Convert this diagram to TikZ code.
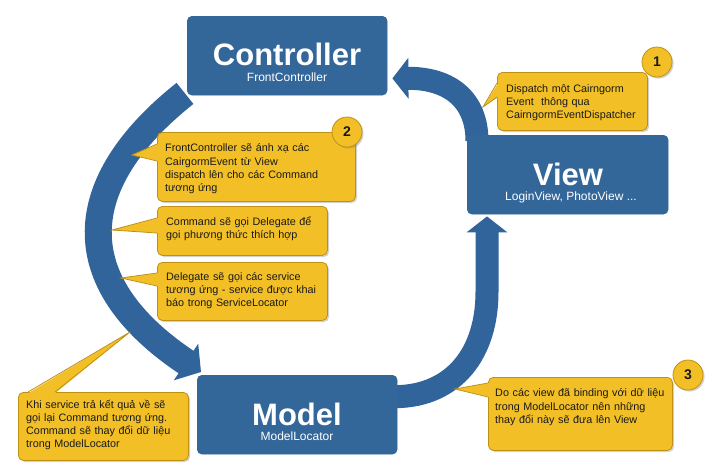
\documentclass[tikz,border=0pt]{standalone}
\usepackage{fontspec}
\setmainfont{Liberation Sans}
\usetikzlibrary{arrows.meta,shadows}
\definecolor{boxblue}{RGB}{51,102,153}
\definecolor{arcblue}{RGB}{50,100,156}
\definecolor{gold}{RGB}{242,192,38}
\definecolor{golddark}{RGB}{190,145,22}
\definecolor{txt}{RGB}{25,25,25}
\newcommand{\callptr}[4]{%
  \fill[gold] ([shift={#4}]#1) -- (#2) -- ([shift={#4}]#3) -- cycle;
  \draw[pointeredge] (#1) -- (#2) -- (#3);}
\begin{document}
\begin{tikzpicture}[x=1pt,y=-1pt,
  blockbox/.style={fill=boxblue, rounded corners=5pt, inner sep=0pt, anchor=north west},
  titletext/.style={text=white, font=\fontsize{31}{31}\selectfont\bfseries, inner sep=0pt, anchor=base},
  subtext/.style={text=white, font=\fontsize{12}{12}\selectfont, inner sep=0pt, anchor=base},
  callbox/.style={fill=gold, draw=golddark, line width=0.8pt, rounded corners=5pt, inner sep=0pt, anchor=north west,
    drop shadow={shadow xshift=1.6pt, shadow yshift=-1.6pt, opacity=0.35}},
  calltext/.style={text=txt, font=\fontsize{10.8}{13.3}\selectfont, align=left, text width=220pt, inner sep=0pt, anchor=base west},
  pointeredge/.style={draw=golddark, line width=0.8pt, line join=miter},
  badge/.style={circle, fill=gold, draw=golddark, line width=0.8pt, minimum size=30pt, inner sep=0pt,
    font=\fontsize{14}{14}\selectfont\bfseries, text=txt,
    drop shadow={shadow xshift=1.6pt, shadow yshift=-1.6pt, opacity=0.35}},
  arcwide/.style={draw=arcblue, line width=27pt, -{Triangle[length=18pt,width=43pt]}},
  arcnarrow/.style={draw=arcblue, line width=23pt, -{Triangle[length=16pt,width=40pt]}},
]
\useasboundingbox (0,0) rectangle (713,469);
\fill[white] (0,0) rectangle (713,469);

% blue blocks (nodes first so anchors exist; arcs drawn beneath via later redraw order)
\node[blockbox, minimum width=200pt, minimum height=79pt] (ctrl) at (187,16) {};
\node[blockbox, minimum width=201pt, minimum height=79pt] (view) at (467,135) {};
\node[blockbox, minimum width=200pt, minimum height=79pt] (model) at (197,375) {};

% arcs
\draw[arcwide] ([shift={(-2,-2)}]ctrl.south west) .. controls (72,183) and (66,282) .. ([shift={(4,-3)}]model.north west);
\draw[arcnarrow] ([shift={(-2,-18)}]model.east) .. controls (455,396) and (487,352) .. (487,292) -- ([shift={(20,2)}]view.south west);
\draw[arcnarrow] ([shift={(10,6)}]view.north west) .. controls (477,100) and (450,78) .. ([shift={(5,-17)}]ctrl.south east);

% redraw blocks on top of arcs
\fill[boxblue, rounded corners=5pt] (ctrl.north west) rectangle (ctrl.south east);
\fill[boxblue, rounded corners=5pt] (view.north west) rectangle (view.south east);
\fill[boxblue, rounded corners=5pt] (model.north west) rectangle (model.south east);

\node[titletext] (ctrlt) at (287,65) {Controller};
\node[subtext] (ctrls) at (287,81.7) {FrontController};
\node[titletext] (viewt) at (568,185) {View};
\node[subtext] (views) at (571,200.7) {LoginView, PhotoView ...};
\node[titletext] (modelt) at (297,425) {Model};
\node[subtext] (models) at (297,440) {ModelLocator};

% callout 1
\node[callbox, minimum width=150pt, minimum height=58pt] (c1) at (497,72) {};
\coordinate (c1a) at ([shift={(0,11)}]c1.north west);
\coordinate (c1b) at ([shift={(0,25)}]c1.north west);
\coordinate (c1tip) at (483,107);
\callptr{c1a}{c1tip}{c1b}{(1.3,0)}
\node[calltext] (c1t) at (506,92) {Dispatch một Cairngorm\\Event\ \ thông qua\\CairngormEventDispatcher};

% callout 2
\node[callbox, minimum width=198pt, minimum height=69pt] (c2) at (157,132) {};
\coordinate (c2a) at ([shift={(0,12)}]c2.north west);
\coordinate (c2b) at ([shift={(0,29)}]c2.north west);
\coordinate (c2tip) at (132,155);
\callptr{c2a}{c2tip}{c2b}{(1.3,0)}
\node[calltext] (c2t) at (165,151.7) {FrontController sẽ ánh xạ các\\CairgormEvent từ View\\dispatch lên cho các Command\\tương ứng};

% callout Command
\node[callbox, minimum width=170pt, minimum height=49pt] (c3) at (157,206) {};
\coordinate (c3a) at ([shift={(0,12)}]c3.north west);
\coordinate (c3b) at ([shift={(0,27)}]c3.north west);
\coordinate (c3tip) at (112,230);
\callptr{c3a}{c3tip}{c3b}{(1.3,0)}
\node[calltext] (c3t) at (166,225) {Command sẽ gọi Delegate để\\gọi phương thức thích hợp};

% callout Delegate
\node[callbox, minimum width=170pt, minimum height=58pt] (c4) at (157,262) {};
\coordinate (c4a) at ([shift={(0,11)}]c4.north west);
\coordinate (c4b) at ([shift={(0,24)}]c4.north west);
\coordinate (c4tip) at (121,278);
\callptr{c4a}{c4tip}{c4b}{(1.3,0)}
\node[calltext] (c4t) at (166,280) {Delegate sẽ gọi các service\\tương ứng - service được khai\\báo trong ServiceLocator};

% callout Khi service
\node[callbox, minimum width=170pt, minimum height=68pt] (c5) at (18,392) {};
\coordinate (c5a) at ([shift={(10,0)}]c5.north west);
\coordinate (c5b) at ([shift={(37,0)}]c5.north west);
\coordinate (c5tip) at (130,332);
\callptr{c5a}{c5tip}{c5b}{(0,1.3)}
\node[calltext] (c5t) at (26,408) {Khi service trả kết quả về sẽ\\gọi lại Command tương ứng.\\Command sẽ thay đổi dữ liệu\\trong ModelLocator};

% callout 3
\node[callbox, minimum width=184pt, minimum height=73pt] (c6) at (488,377) {};
\coordinate (c6a) at ([shift={(0,6)}]c6.north west);
\coordinate (c6b) at ([shift={(0,20)}]c6.north west);
\coordinate (c6tip) at (455,389);
\callptr{c6a}{c6tip}{c6b}{(1.3,0)}
\node[calltext] (c6t) at (495,396.7) {Do các view đã binding với dữ liệu\\trong ModelLocator nên những\\thay đổi này sẽ đưa lên View};

% badges
\node[badge] (b1) at (657,62) {1};
\node[badge] (b2) at (347,132) {2};
\node[badge] (b3) at (688,375) {3};
\end{tikzpicture}
\end{document}
